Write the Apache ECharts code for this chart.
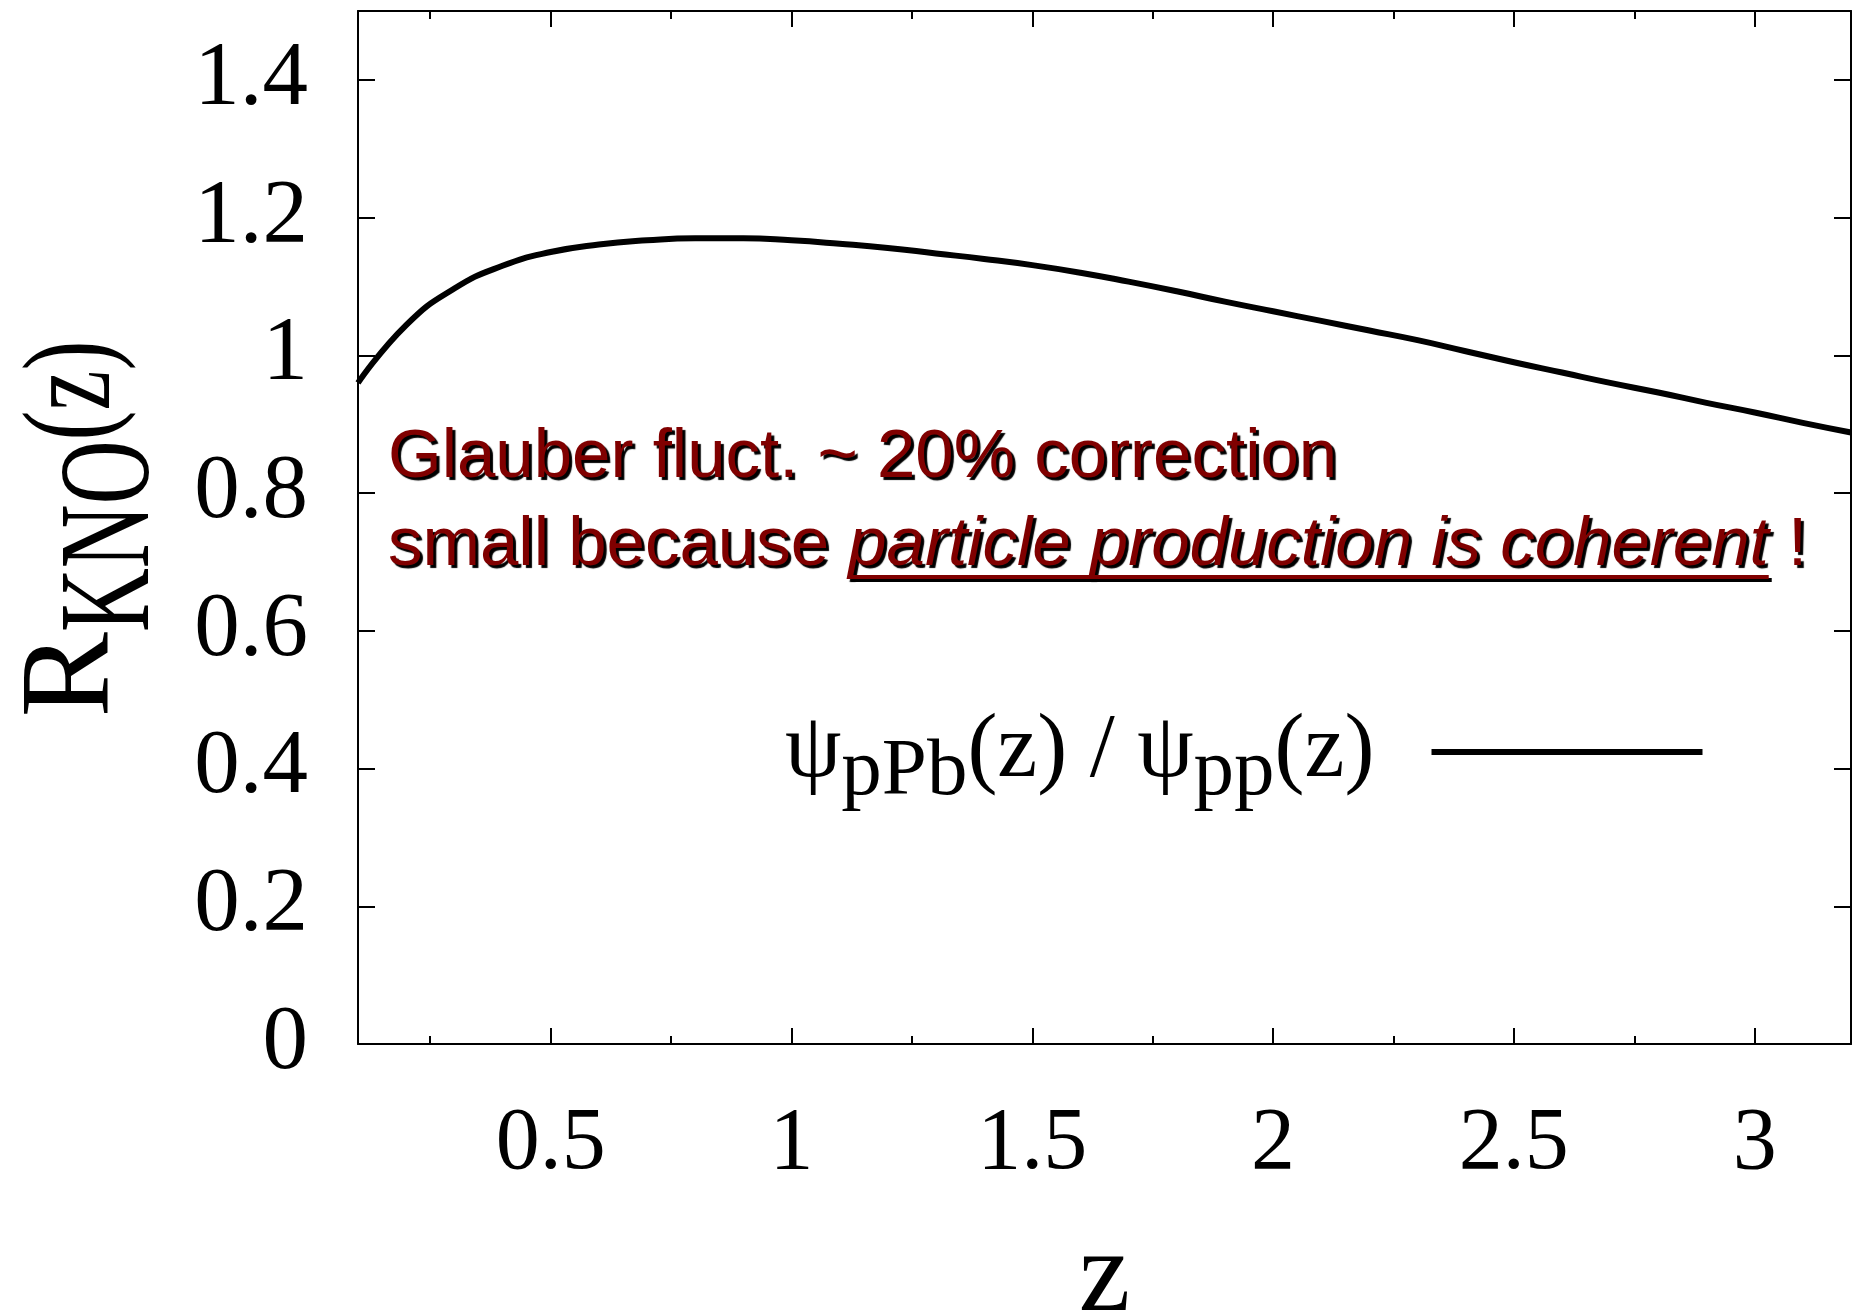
<!DOCTYPE html>
<html><head><meta charset="utf-8">
<script src="https://cdn.jsdelivr.net/npm/echarts@6/dist/echarts.min.js"></script>
<style>html,body{margin:0;padding:0;background:#fff;overflow:hidden;}#c{width:1854px;height:1313px;}</style>
</head><body><div id="c"></div>
<script>
// ---- data ----
const zValues = [0.1, 0.2, 0.3, 0.4, 0.5, 0.6, 0.7, 0.8, 0.9, 1.0, 1.1, 1.2, 1.3, 1.4, 1.5, 1.6, 1.7, 1.8, 1.9, 2.0, 2.1, 2.2, 2.3, 2.4, 2.5, 2.6, 2.7, 2.8, 2.9, 3.0, 3.1, 3.2];
const ratioValues = [0.960, 1.044, 1.097, 1.130, 1.150, 1.161, 1.167, 1.170, 1.170, 1.167, 1.162, 1.156, 1.148, 1.140, 1.131, 1.120, 1.107, 1.093, 1.078, 1.064, 1.050, 1.036, 1.022, 1.006, 0.990, 0.975, 0.960, 0.946, 0.931, 0.917, 0.902, 0.888];
const xMajorTicks = [0.5, 1, 1.5, 2, 2.5, 3];
const xMinorTicks = [0.25, 0.75, 1.25, 1.75, 2.25, 2.75];
const yTicks = [0, 0.2, 0.4, 0.6, 0.8, 1, 1.2, 1.4];
const seriesName = 'psi_pPb(z) / psi_pp(z)';
const xTitle = 'z';
const yTitleParts = ['R', 'KNO', '(z)'];
const annotationLine1 = 'Glauber fluct. ~ 20% correction';
const annotationLine2a = 'small because ';
const annotationLine2b = 'particle production is coherent';
const annotationLine2c = ' !';

// ---- styling ----
const SERIF = '"Liberation Serif", "DejaVu Serif", serif';
const SANS = '"Liberation Sans", Arial, sans-serif';
const RED = '#800000';
const annFont = 69, annLH = 88, annLeft = 388, annTop = 423;

function measure(text, font) {
  const cv = document.createElement('canvas').getContext('2d');
  cv.font = font;
  return cv.measureText(text).width;
}

const chart = echarts.init(document.getElementById('c'), null, {renderer: 'canvas'});
const data = zValues.map((z, i) => [z, ratioValues[i]]);

const axisLine = {show: true, lineStyle: {color: '#000', width: 2}};
const tickStyle = {color: '#000', width: 2};
const xBase = {type: 'value', min: 0.1, max: 3.2, splitLine: {show: false}, gridIndex: 0};

const w2a = measure(annotationLine2a, annFont + 'px ' + SANS);
const w2b = measure(annotationLine2b, 'italic ' + annFont + 'px ' + SANS);
const ulY = annTop + 2 * annLH - 24;

const mainF = 90, subF = 81, subShift = 18;
const lPad = Math.round(0.82 * mainF - 0.82 * subF + subShift);

// y-axis title pieces (rotated group), condensed glyphs like the reference
const yT = {
  r: {size: 128, sx: 1.0},
  k: {size: 130, sx: 0.68},
  z: {size: 125, sx: 0.72},
  shift: 40
};
const wR = measure(yTitleParts[0], yT.r.size + 'px ' + SERIF) * yT.r.sx;
const wK = measure(yTitleParts[1], yT.k.size + 'px ' + SERIF) * yT.k.sx;
const wZ = measure(yTitleParts[2], yT.z.size + 'px ' + SERIF) * yT.z.sx;
const wAll = wR + wK + wZ;
const mid = s => -0.3375 * s;
function titleText(txt, size, sx, x, y) {
  return {type: 'text', x: x, y: y, scaleX: sx, scaleY: 1,
    style: {text: txt, fontFamily: SERIF, fontSize: size, fill: '#000', align: 'left', verticalAlign: 'middle'}};
}

const shadow = {textShadowColor: '#000', textShadowOffsetX: 3, textShadowOffsetY: 3, textShadowBlur: 1};

const option = {
  animation: false,
  backgroundColor: '#fff',
  grid: {left: 358, right: 3, top: 11, bottom: 269, containLabel: false, outerBoundsMode: 'none'},
  xAxis: [
    Object.assign({}, xBase, {
      position: 'bottom', axisLine: axisLine,
      axisTick: {show: true, inside: true, length: 16, lineStyle: tickStyle, customValues: xMajorTicks},
      axisLabel: {show: true, customValues: xMajorTicks, margin: 57, color: '#000', fontFamily: SERIF, fontSize: 88,
        formatter: v => String(v)},
      name: xTitle, nameLocation: 'middle', nameGap: 178,
      nameTextStyle: {fontFamily: SERIF, fontSize: 116, color: '#000'}
    }),
    Object.assign({}, xBase, {
      position: 'bottom', axisLine: {show: false},
      axisTick: {show: true, inside: true, length: 8, lineStyle: tickStyle, customValues: xMinorTicks},
      axisLabel: {show: false}
    }),
    Object.assign({}, xBase, {
      position: 'top', axisLine: axisLine,
      axisTick: {show: true, inside: true, length: 16, lineStyle: tickStyle, customValues: xMajorTicks},
      axisLabel: {show: false}
    }),
    Object.assign({}, xBase, {
      position: 'top', axisLine: {show: false},
      axisTick: {show: true, inside: true, length: 8, lineStyle: tickStyle, customValues: xMinorTicks},
      axisLabel: {show: false}
    })
  ],
  yAxis: [
    {
      type: 'value', min: 0, max: 1.5, position: 'left', splitLine: {show: false}, axisLine: axisLine,
      axisTick: {show: true, inside: true, length: 17, lineStyle: tickStyle, customValues: yTicks},
      axisLabel: {show: true, customValues: yTicks, margin: 50, color: '#000', fontFamily: SERIF, fontSize: 91,
        formatter: v => String(v)}
    },
    {
      type: 'value', min: 0, max: 1.5, position: 'right', splitLine: {show: false}, axisLine: axisLine,
      axisTick: {show: true, inside: true, length: 17, lineStyle: tickStyle, customValues: yTicks},
      axisLabel: {show: false}
    }
  ],
  legend: {
    data: [seriesName], left: 785, top: 707, padding: 0, align: 'right',
    icon: 'rect', itemWidth: 271, itemHeight: 6, selectedMode: false,
    itemStyle: {color: '#000'},
    formatter: () => '{m|ψ}{s|pPb}{m|(z) / ψ}{s|pp}{e|(z)}',
    textStyle: {
      color: '#000',
      rich: {
        m: {fontFamily: SERIF, fontSize: mainF, lineHeight: mainF, verticalAlign: 'top', color: '#000'},
        e: {fontFamily: SERIF, fontSize: mainF, lineHeight: mainF, verticalAlign: 'top', color: '#000', padding: [0, 52, 0, 0]},
        s: {fontFamily: SERIF, fontSize: subF, lineHeight: subF, verticalAlign: 'top', padding: [lPad, 0, 0, 0], color: '#000'}
      }
    }
  },
  series: [{
    name: seriesName, type: 'line', data: data, smooth: true, showSymbol: false,
    xAxisIndex: 0, yAxisIndex: 0, color: '#000',
    lineStyle: {color: '#000', width: 6}
  }],
  graphic: [
    {
      type: 'group', x: 118, y: 529, rotation: Math.PI / 2,
      children: [
        titleText(yTitleParts[0], yT.r.size, yT.r.sx, -wAll / 2, mid(yT.r.size)),
        titleText(yTitleParts[1], yT.k.size, yT.k.sx, -wAll / 2 + wR, yT.shift + mid(yT.k.size)),
        titleText(yTitleParts[2], yT.z.size, yT.z.sx, -wAll / 2 + wR + wK, mid(yT.z.size))
      ]
    },
    {
      type: 'text', left: annLeft, top: annTop, z: 100,
      style: Object.assign({
        text: '{a|' + annotationLine1 + '}\n{a|' + annotationLine2a + '}{i|' + annotationLine2b + '}{a|' + annotationLine2c + '}',
        fill: RED, fontFamily: SANS, fontSize: annFont,
        rich: {
          a: Object.assign({fontFamily: SANS, fontSize: annFont, lineHeight: annLH, fill: RED}, shadow),
          i: Object.assign({fontFamily: SANS, fontSize: annFont, lineHeight: annLH, fontStyle: 'italic', fill: RED}, shadow)
        }
      }, shadow)
    },
    {type: 'rect', z: 99, shape: {x: annLeft + w2a + 3, y: ulY + 3, width: w2b, height: 4}, style: {fill: '#000'}},
    {type: 'rect', z: 100, shape: {x: annLeft + w2a, y: ulY, width: w2b, height: 4}, style: {fill: RED}}
  ]
};
chart.setOption(option);
</script></body></html>
